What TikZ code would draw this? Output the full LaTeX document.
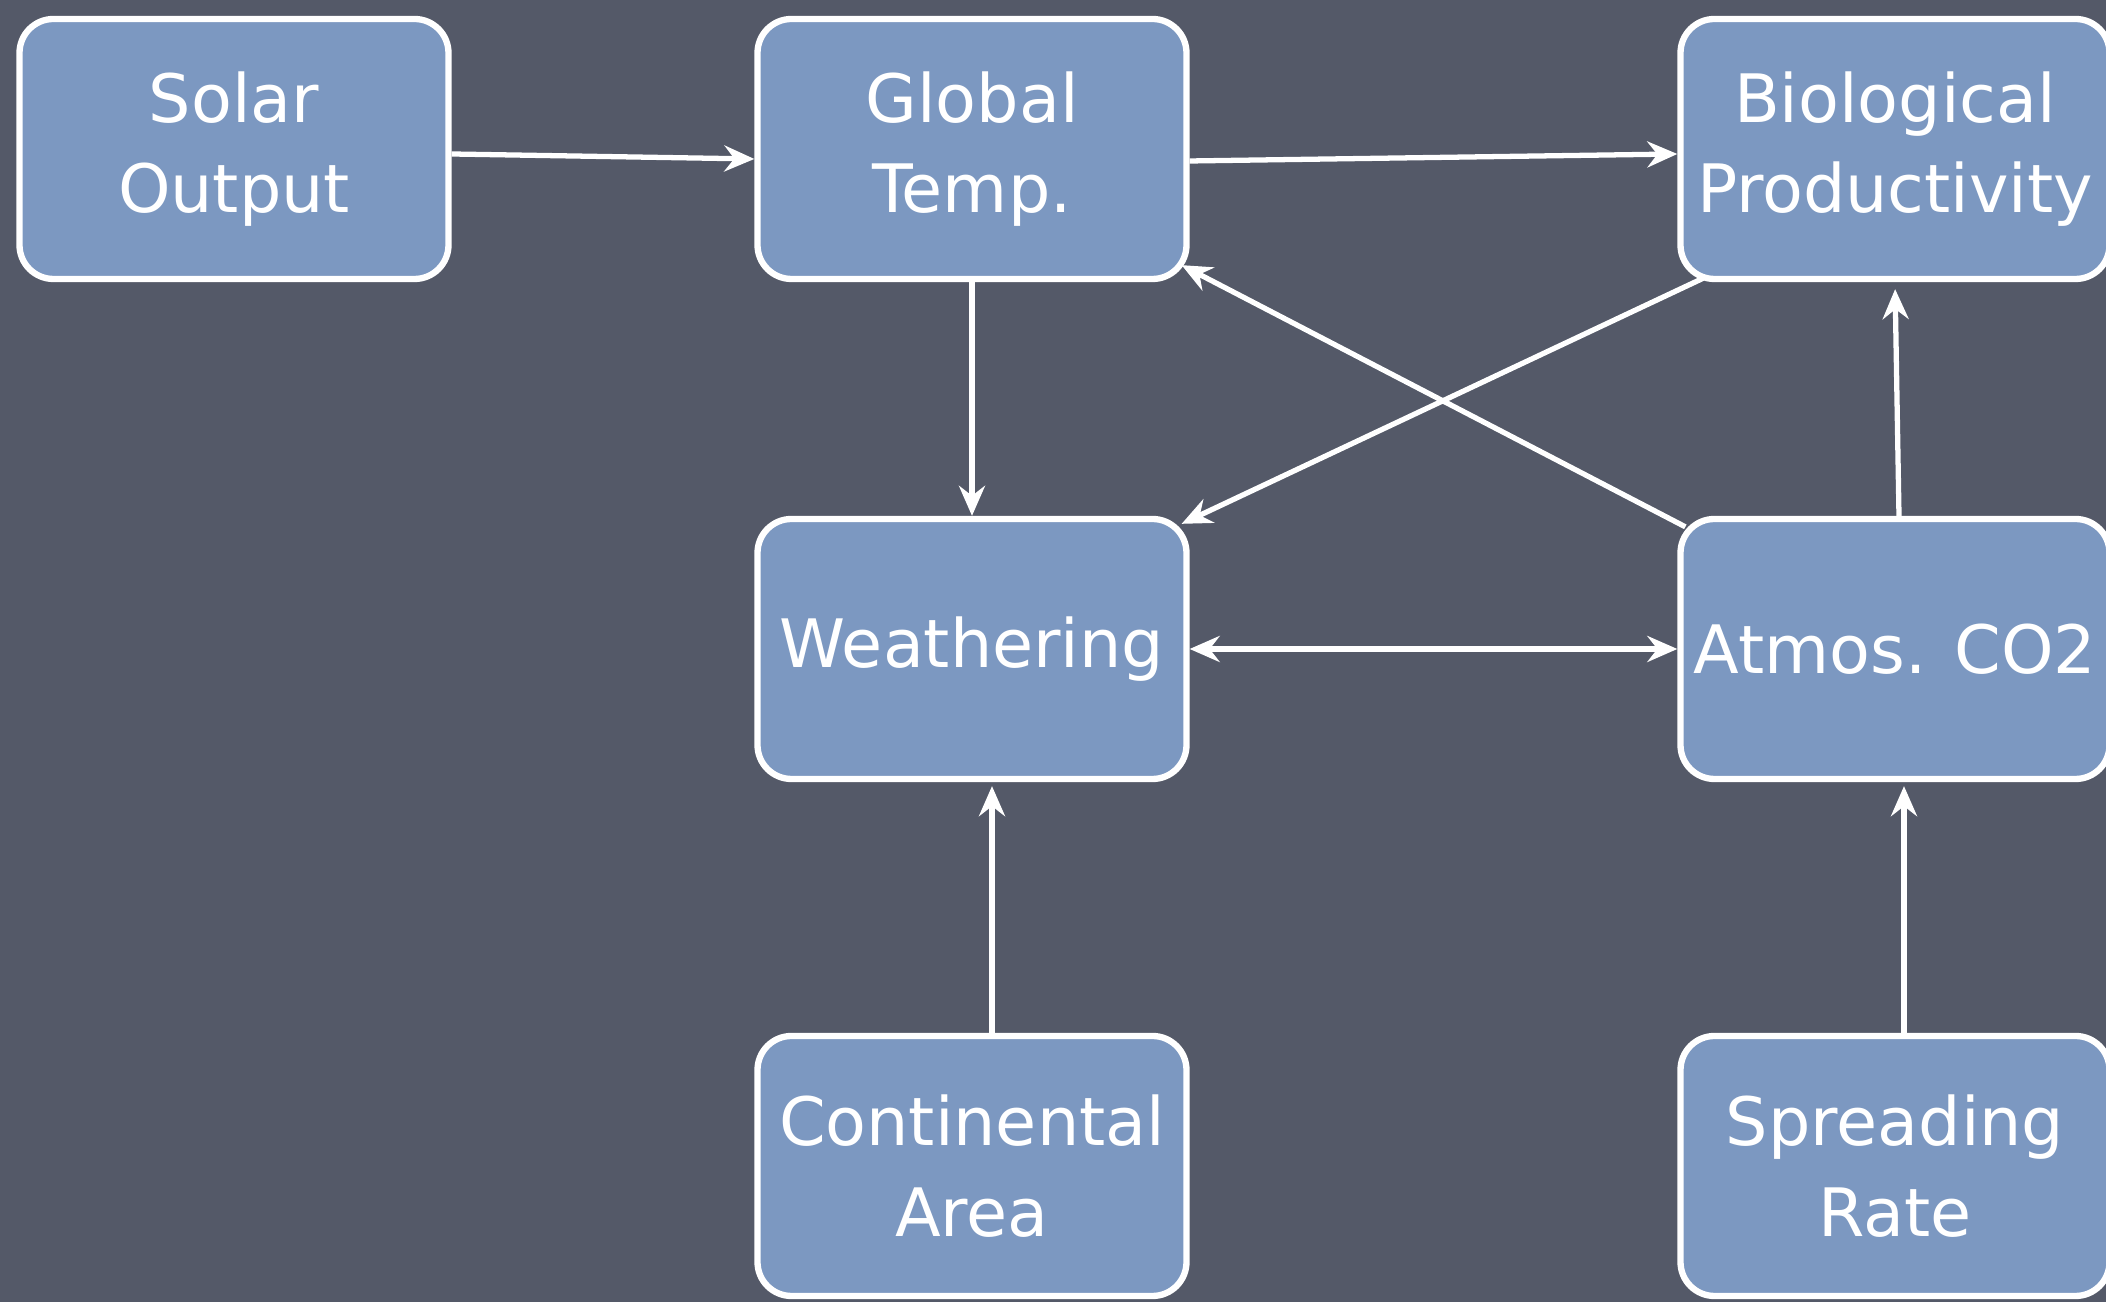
\documentclass[tikz,border=0pt]{standalone}
\usepackage{fontspec}
\setmainfont{DejaVu Sans}
\usetikzlibrary{arrows.meta}
\definecolor{slate}{RGB}{84,89,104}
\definecolor{boxblue}{RGB}{124,152,193}
\begin{document}
\begin{tikzpicture}[
    font=\fontsize{19}{25.8}\selectfont,
    >={Stealth[length=0.3cm, width=0.26cm, inset=0.1cm]},
    box/.style={draw=white, fill=boxblue, line width=1.8pt, rounded corners=0.34cm,
                minimum width=4.29cm, minimum height=2.6cm, text=white,
                align=center, inner sep=0pt},
    link/.style={draw=white, line width=1.5pt, ->},
  ]
  \fill[slate] (0,0) rectangle (21.06,13.02);
  \useasboundingbox (0,0) rectangle (21.06,13.02);
  % top row
  \node[box] (solar)  at (2.34,11.53)  {Solar\\Output};
  \node[box] (global) at (9.72,11.53)  {Global\\Temp.};
  \node[box] (bio)    at (18.95,11.53) {Biological\\Productivity};
  % middle row
  \node[box] (weath)  at (9.72,6.53)   {Weathering};
  \node[box] (atmos)  at (18.95,6.53)  {Atmos. CO2};
  % bottom row
  \node[box] (cont)   at (9.72,1.36)   {Continental\\Area};
  \node[box] (spread) at (18.95,1.36)  {Spreading\\Rate};
  % links
  \draw[link] ([yshift=-0.05cm]solar.east) -- ([yshift=-0.1cm]global.west);
  \draw[link] ([yshift=-0.12cm]global.east) -- ([yshift=-0.05cm]bio.west);
  \draw[link] (global.south) -- (weath.north);
  \draw[link] ([xshift=0.26cm, yshift=0.04cm]bio.south west) -- ([xshift=-0.08cm, yshift=-0.08cm]weath.north east);
  \draw[link] ([xshift=0.08cm, yshift=-0.11cm]atmos.north west) -- ([xshift=-0.08cm, yshift=0.17cm]global.south east);
  \draw[link, <->] (weath.east) -- (atmos.west);
  \draw[link, shorten >=0.07cm] ([xshift=0.04cm]atmos.north) -- (bio.south);
  \draw[link, shorten >=0.04cm] ([xshift=0.2cm]cont.north) -- ([xshift=0.2cm]weath.south);
  \draw[link, shorten >=0.04cm] ([xshift=0.09cm]spread.north) -- ([xshift=0.09cm]atmos.south);
\end{tikzpicture}
\end{document}
